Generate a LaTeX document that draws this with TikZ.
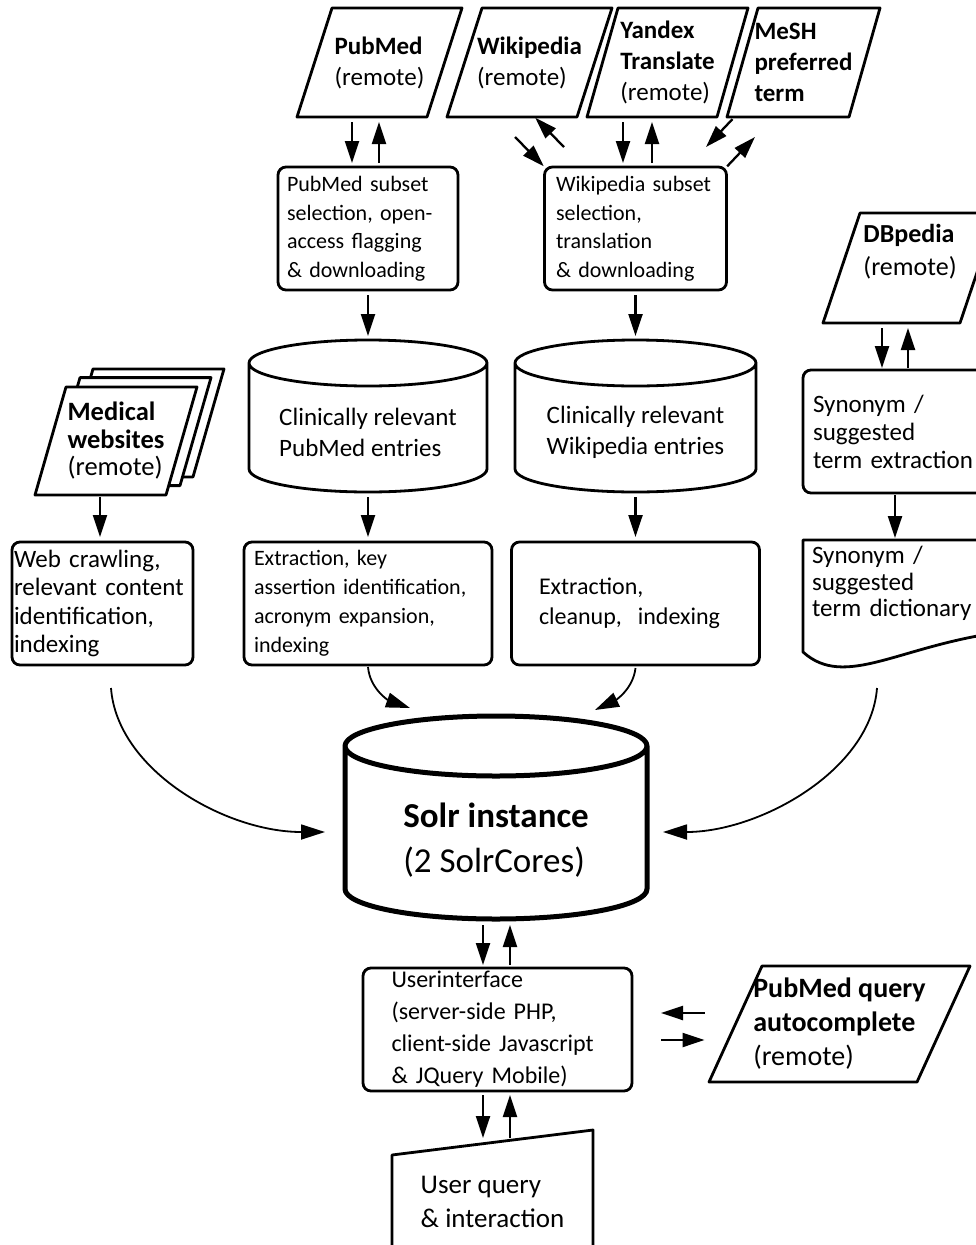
\documentclass[tikz,border=0pt]{standalone}
\usepackage{fontspec}
\setmainfont{Carlito}
\usetikzlibrary{arrows.meta}

\begin{document}
\begin{tikzpicture}[x=1pt,y=-1pt,
  rim/.style={line width=2.8pt,line join=round},
  box/.style={draw,line width=2.8pt,rounded corners=8pt,inner sep=0pt,outer sep=0pt,align=left},
  body/.style={inner sep=0pt,outer sep=0pt,align=left},
  arr/.style={line width=2.3pt,-{Triangle[length=22pt,width=14pt]}},
  curvy/.style={line width=1.8pt,-{Triangle[length=24pt,width=15pt]}},
  srcfont/.style={font=\fontsize{25}{31}\selectfont},
  selfont/.style={font=\fontsize{22}{28.5}\selectfont},
  synfont/.style={font=\fontsize{25}{28}\selectfont}]

  \fill[white] (0,0) rectangle (976,1245);
  \path[use as bounding box] (0,0) rectangle (976,1245);
  \clip (0,0) rectangle (976,1245);

  % remote sources
  \node[body,srcfont,minimum width=130pt,minimum height=109pt] (pmsrc) at (379.5,62.5) {\textbf{PubMed}\\(remote)};
  \node[body,srcfont,minimum width=130pt,minimum height=109pt] (wpsrc) at (529.5,62.5) {\textbf{Wikipedia}\\(remote)};
  \node[body,srcfont,minimum width=130pt,minimum height=109pt] (yxsrc) at (667.5,62.5) {\textbf{Yandex}\\\textbf{Translate}\\(remote)};
  \node[body,srcfont,minimum width=122pt,minimum height=109pt] (mesh) at (803.5,62.5) {\textbf{MeSH}\\\textbf{preferred}\\\textbf{term}};
  \node[body,minimum width=137pt,minimum height=110pt,
    label={[name=dbptxt,font=\fontsize{26}{33}\selectfont,align=left,yshift=16.5pt]center:{\textbf{DBpedia}\\(remote)}}] (dbp) at (910,268) {};
  \node[body,font=\fontsize{28}{34}\selectfont,minimum width=208pt,minimum height=116pt] (pmq) at (839.5,1024) {\textbf{PubMed query}\\\textbf{autocomplete}\\(remote)};
  \foreach \n/\s in {pmsrc/17.5,wpsrc/17.5,yxsrc/15.5,mesh/15.5,dbp/18.5,pmq/26.5}
    \draw[rim] ([xshift=\s]\n.north west) -- ([xshift=\s]\n.north east) -- ([xshift=-\s]\n.south east) -- ([xshift=-\s]\n.south west) -- cycle;

  % medical websites (stacked)
  \node[body,minimum width=131pt,minimum height=108pt] (medweb) at (116,441) {};
  \foreach \d in {27,14,0}
    \draw[rim,fill=white] ([xshift=\d+15.5,yshift=0.67*\d]medweb.north west) -- ([xshift=\d+15.5,yshift=0.67*\d]medweb.north east) -- ([xshift=\d-15.5,yshift=0.67*\d]medweb.south east) -- ([xshift=\d-15.5,yshift=0.67*\d]medweb.south west) -- cycle;
  \node[body,font=\fontsize{26.5}{27.5}\selectfont] (medtxt) at (medweb) {\textbf{Medical}\\\textbf{websites}\\(remote)};

  % processing steps
  \node[box,selfont,minimum width=180pt,minimum height=123pt,text width=162pt] (pmsel) at (368,228.5) {PubMed subset\\selection, open-\\access flagging\\\& downloading};
  \node[box,selfont,minimum width=182pt,minimum height=123pt,text width=159pt] (wpsel) at (635.5,228.5) {Wikipedia subset\\selection,\\translation\\\& downloading};
  \node[box,font=\fontsize{25}{28.5}\selectfont,minimum width=181pt,minimum height=123pt,text width=177pt] (webcr) at (102.5,603.5) {Web crawling,\\relevant content\\identification,\\indexing};
  \node[box,font=\fontsize{22}{29}\selectfont,minimum width=248pt,minimum height=123pt,text width=228pt] (pmext) at (368,603.5) {Extraction, key\\assertion identification,\\acronym expansion,\\indexing};
  \node[box,font=\fontsize{24}{30}\selectfont,minimum width=248pt,minimum height=123pt,text width=193pt] (wpext) at (635.5,603.5) {Extraction,\\cleanup,~ indexing};
  \node[box,synfont,minimum width=200pt,minimum height=123pt,text width=180pt] (synx) at (903,431.5) {Synonym /\\suggested\\term extraction};
  \node[box,font=\fontsize{24}{32}\selectfont,minimum width=269pt,minimum height=123pt,text width=212pt] (ui) at (497.5,1029.5) {Userinterface\\(server-side PHP,\\client-side Javascript\\\& JQuery Mobile)};

  % data stores
  \node[body,minimum width=238pt,minimum height=152pt,
    label={[name=pmdbtxt,srcfont,align=left,yshift=-16.5pt]center:{Clinically relevant\\PubMed entries}}] (pmdb) at (368,416) {};
  \node[body,minimum width=241pt,minimum height=152pt,
    label={[name=wpdbtxt,srcfont,align=left,yshift=-16.5pt]center:{Clinically relevant\\Wikipedia entries}}] (wpdb) at (635.5,416) {};
  \foreach \n/\r in {pmdb/119,wpdb/120.5}
    \draw[rim] ([yshift=-23pt]\n.north west) -- ([yshift=23pt]\n.south west)
      arc[start angle=180,end angle=360,x radius=\r*1pt,y radius=23pt]
      -- ([yshift=-23pt]\n.north east)
      arc[start angle=0,end angle=180,x radius=\r*1pt,y radius=23pt] -- cycle
      ([yshift=-23pt]\n.north west) arc[start angle=180,end angle=360,x radius=\r*1pt,y radius=23pt];
  \node[body,minimum width=302pt,minimum height=203pt,
    label={[name=solrtxt,font=\fontsize{35}{45}\selectfont,align=left,yshift=-23pt]center:{\textbf{Solr instance}\\(2 SolrCores)}}] (solr) at (496,817.5) {};
  \draw[rim,line width=5pt] ([yshift=-30pt]solr.north west) -- ([yshift=30pt]solr.south west)
      arc[start angle=180,end angle=360,x radius=151pt,y radius=30pt]
      -- ([yshift=-30pt]solr.north east)
      arc[start angle=0,end angle=180,x radius=151pt,y radius=30pt] -- cycle
      ([yshift=-30pt]solr.north west) arc[start angle=180,end angle=360,x radius=151pt,y radius=30pt];
  \node[body,minimum width=200pt,minimum height=112pt,
    label={[name=dicttxt,font=\fontsize{25}{26.5}\selectfont,align=left,text width=182pt,yshift=12.5pt]center:{Synonym /\\suggested\\term dictionary}}] (dict) at (903,596) {};
  \draw[rim] (dict.south west) -- (dict.north west) -- (dict.north east) -- ([yshift=20pt]dict.south east)
    .. controls (900,645) and (845,690) .. (dict.south west) -- cycle;
  \node[body,font=\fontsize{27}{34}\selectfont,minimum width=201pt,minimum height=117pt] (uq) at (492.5,1201.5) {User query\\\& interaction};
  \draw[rim] (uq.south west) -- ([yshift=-12pt]uq.north west) -- ([yshift=13pt]uq.north east) -- (uq.south east);

  % top connectors
  \draw[arr,shorten <=5pt,shorten >=4pt] ([xshift=-16pt]pmsel.north |- pmsrc.south) -- ([xshift=-16pt]pmsel.north);
  \draw[arr,shorten <=4pt,shorten >=5pt] ([xshift=11pt]pmsel.north) -- ([xshift=11pt]pmsel.north |- pmsrc.south);
  \coordinate (wpin) at (515,137);
  \coordinate (wpback) at (564,147);
  \draw[arr,shorten >=1pt] (wpin) -- (wpsel.north west);
  \draw[arr,shorten >=1pt] (wpback) -- ([xshift=5pt]wpsrc.south);
  \draw[arr,shorten <=5pt,shorten >=4pt] ([xshift=-12.5pt]wpsel.north |- yxsrc.south) -- ([xshift=-12.5pt]wpsel.north);
  \draw[arr,shorten <=4pt,shorten >=5pt] ([xshift=16.5pt]wpsel.north) -- ([xshift=16.5pt]wpsel.north |- yxsrc.south);
  \coordinate (meshin) at (706,147);
  \coordinate (meshout) at (755,137);
  \draw[arr,shorten <=3pt] ([xshift=-69pt]mesh.south) -- (meshin);
  \draw[arr,shorten <=1pt] (wpsel.north east) -- (meshout);
  \draw[arr,shorten <=5pt,shorten >=2pt] ([xshift=-21pt]synx.north |- dbp.south) -- ([xshift=-21pt]synx.north);
  \draw[arr,shorten <=2pt,shorten >=5pt] ([xshift=5pt]synx.north) -- ([xshift=5pt]synx.north |- dbp.south);

  % columns
  \draw[arr,shorten <=5pt,shorten >=4pt] (pmsel.south) -- (pmdb.north);
  \draw[arr,shorten <=5pt,shorten >=4pt] (wpsel.south) -- (wpdb.north);
  \draw[arr,shorten <=5pt,shorten >=5pt] (pmdb.south) -- (pmext.north);
  \draw[arr,shorten <=5pt,shorten >=5pt] (wpdb.south) -- (wpext.north);
  \draw[arr,shorten <=2pt,shorten >=5pt] ([xshift=-2.5pt]webcr.north |- medweb.south) -- ([xshift=-2.5pt]webcr.north);
  \draw[arr,shorten <=2pt,shorten >=2pt] ([xshift=-8pt]synx.south) -- ([xshift=-8pt]dict.north);

  % into the index
  \draw[curvy] ([xshift=8.5pt,yshift=-23pt]webcr.south) .. controls (117,770) and (225,832) .. ([xshift=-20pt,yshift=-14.5pt]solr.west);
  \draw[curvy] ([yshift=-2pt]pmext.south) .. controls (370,690) and (390,701) .. ([xshift=-86pt,yshift=8pt]solr.north);
  \draw[curvy] ([yshift=-3pt]wpext.south) .. controls (633,690) and (614,701) .. ([xshift=99pt,yshift=6pt]solr.north);
  \draw[curvy] ([xshift=-26pt,yshift=-36pt]dict.south) .. controls (871,770) and (760,832) .. ([xshift=16pt,yshift=-14.5pt]solr.east);

  % user side
  \draw[arr,shorten <=6pt,shorten >=3pt] ([xshift=-14.5pt]ui.north |- solr.south) -- ([xshift=-14.5pt]ui.north);
  \draw[arr,shorten <=3pt,shorten >=6pt] ([xshift=12.5pt]ui.north) -- ([xshift=12.5pt]ui.north |- solr.south);
  \draw[arr,shorten <=31pt,shorten >=29pt] ([yshift=11pt]pmq.west) -- ([yshift=11pt]pmq.west -| ui.east);
  \draw[arr,shorten <=29pt,shorten >=31pt] ([yshift=-16pt]pmq.west -| ui.east) -- ([yshift=-16pt]pmq.west);
  \draw[arr,shorten <=4pt,shorten >=5pt] ([xshift=-14.5pt]ui.south) -- ([xshift=-14.5pt]ui.south |- uq.north);
  \draw[arr,shorten <=5pt,shorten >=4pt] ([xshift=12.5pt]ui.south |- uq.north) -- ([xshift=12.5pt]ui.south);
\end{tikzpicture}
\end{document}
